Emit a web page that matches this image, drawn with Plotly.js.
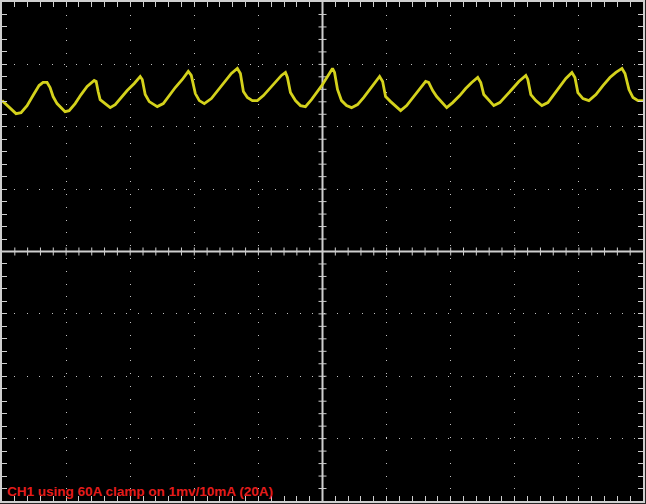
<!DOCTYPE html>
<html>
<head>
<meta charset="utf-8">
<script src="https://cdn.plot.ly/plotly-3.0.1.min.js"></script>
<style>
html,body{margin:0;padding:0;background:#262626;}
#chart{width:646px;height:504px;}
</style>
</head>
<body>
<div id="chart"></div>
<script>
// Time axis in screen divisions (0..10), CH1 in vertical divisions (-4..4, 0 = centre)
const timeDiv = [0,0.078,0.156,0.219,0.297,0.391,0.484,0.578,0.641,0.703,0.75,0.797,0.859,0.922,0.984,1.047,1.141,1.234,1.328,1.438,1.469,1.5,1.531,1.609,1.688,1.766,1.859,1.953,2.063,2.156,2.188,2.234,2.297,2.422,2.516,2.609,2.703,2.813,2.906,2.953,3.016,3.078,3.156,3.266,3.391,3.484,3.578,3.672,3.719,3.766,3.828,3.906,3.984,4.078,4.172,4.266,4.359,4.422,4.453,4.5,4.578,4.656,4.734,4.828,4.922,5.0,5.078,5.156,5.188,5.234,5.297,5.375,5.453,5.547,5.641,5.734,5.828,5.891,5.938,5.984,6.063,6.141,6.219,6.313,6.422,6.516,6.609,6.656,6.719,6.781,6.859,6.938,7.031,7.141,7.234,7.328,7.422,7.469,7.516,7.594,7.672,7.766,7.859,7.953,8.063,8.172,8.203,8.25,8.328,8.422,8.516,8.609,8.703,8.797,8.891,8.938,8.984,9.063,9.156,9.266,9.375,9.484,9.578,9.672,9.719,9.781,9.844,9.922,10.0];
const ch1Div = [2.419,2.339,2.258,2.210,2.226,2.339,2.5,2.661,2.710,2.710,2.629,2.484,2.371,2.306,2.242,2.258,2.371,2.516,2.645,2.742,2.726,2.565,2.435,2.371,2.306,2.355,2.468,2.581,2.694,2.806,2.758,2.516,2.403,2.323,2.371,2.5,2.629,2.758,2.887,2.823,2.532,2.419,2.371,2.452,2.613,2.742,2.855,2.935,2.855,2.565,2.468,2.419,2.419,2.5,2.613,2.726,2.823,2.871,2.790,2.548,2.419,2.339,2.323,2.435,2.565,2.677,2.806,2.935,2.871,2.597,2.419,2.339,2.306,2.355,2.468,2.597,2.726,2.806,2.726,2.484,2.403,2.323,2.258,2.339,2.484,2.613,2.726,2.710,2.581,2.484,2.387,2.306,2.387,2.5,2.613,2.710,2.790,2.710,2.516,2.419,2.339,2.387,2.484,2.597,2.726,2.823,2.758,2.516,2.419,2.339,2.387,2.516,2.645,2.774,2.871,2.790,2.548,2.452,2.419,2.516,2.661,2.790,2.871,2.935,2.855,2.597,2.468,2.419,2.419];
const labelText = "CH1 using 60A clamp on 1mv/10mA (20A)";

const xDivs = 10, yDivs = 8, sub = 5;
const gridCol = '#cfcfcf';

// centre crosshair with sub-division ticks
const shapes = [];
shapes.push({type:'line', xref:'x', yref:'y', x0:xDivs/2, x1:xDivs/2, y0:-yDivs/2, y1:yDivs/2, line:{color:gridCol, width:2}, layer:'between'});
shapes.push({type:'line', xref:'x', yref:'y', x0:0, x1:xDivs, y0:0, y1:0, line:{color:gridCol, width:2}, layer:'between'});
const hx = 4/64.1, hy = 4/62.4;
for (let k = 1; k < xDivs*sub; k++) {
  const x = k/sub;
  shapes.push({type:'line', xref:'x', yref:'y', x0:x, x1:x, y0:-hy, y1:hy, line:{color:gridCol, width:1}, layer:'between'});
}
for (let k = -yDivs/2*sub+1; k < yDivs/2*sub; k++) {
  const y = k/sub;
  shapes.push({type:'line', xref:'x', yref:'y', x0:xDivs/2-hx, x1:xDivs/2+hx, y0:y, y1:y, line:{color:gridCol, width:1}, layer:'between'});
}

const axisCommon = {
  showticklabels:false, zeroline:false,
  showline:true, linecolor:gridCol, linewidth:2, mirror:'ticks',
  ticks:'inside', ticklen:5, tickcolor:gridCol, tickwidth:1,
  showgrid:true, gridcolor:'rgba(215,215,215,0.9)', gridwidth:1,
  fixedrange:true
};

const layout = {
  width:646, height:504,
  margin:{l:2, r:3, t:2, b:3},
  paper_bgcolor:'#262626', plot_bgcolor:'#000000',
  showlegend:false,
  xaxis:Object.assign({}, axisCommon, {range:[0,xDivs], tick0:0, dtick:1, griddash:'1px,11.8px',
    minor:{dtick:1/sub, tick0:0, ticks:'inside', ticklen:5, tickcolor:gridCol, tickwidth:1, showgrid:false}}),
  yaxis:Object.assign({}, axisCommon, {range:[-yDivs/2,yDivs/2], tick0:0, dtick:1, griddash:'1px,11.4px',
    minor:{dtick:1/sub, tick0:0, ticks:'inside', ticklen:5, tickcolor:gridCol, tickwidth:1, showgrid:false}}),
  shapes:shapes,
  annotations:[{
    text:labelText, xref:'paper', yref:'paper', x:0.005, y:0.0,
    xanchor:'left', yanchor:'bottom', showarrow:false,
    font:{family:'Liberation Sans, Arial, sans-serif', size:13.5, color:'#e41c1c', weight:'bold'}
  }]
};

const data = [{
  type:'scatter', mode:'lines', x:timeDiv, y:ch1Div,
  line:{color:'#d4d21c', width:2.8}, hoverinfo:'skip'
}];

Plotly.newPlot('chart', data, layout, {displayModeBar:false, staticPlot:true});
</script>
</body>
</html>
